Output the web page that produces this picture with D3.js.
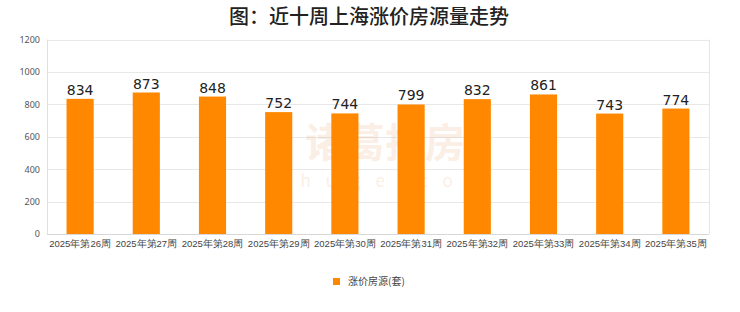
<!DOCTYPE html>
<html>
<head>
<meta charset="utf-8">
<script src="https://cdn.jsdelivr.net/npm/d3@7"></script>
<style>
  body { margin: 0; background: #fff; }
  svg { display: block; font-family: "Noto Sans CJK SC", "Noto Sans", sans-serif; }
</style>
</head>
<body>
<svg class="chart" width="740" height="312"></svg>
<script>
var weeks = ["2025年第26周", "2025年第27周", "2025年第28周", "2025年第29周", "2025年第30周",
             "2025年第31周", "2025年第32周", "2025年第33周", "2025年第34周", "2025年第35周"];
var rises = [834, 873, 848, 752, 744, 799, 832, 861, 743, 774];
var yTicks = [0, 200, 400, 600, 800, 1000, 1200];
var seriesName = "涨价房源(套)";
var chartTitle = "图：近十周上海涨价房源量走势";

var svg = d3.select("svg.chart");
var margin = {left: 47, right: 31, top: 39.5, bottom: 78};
var W = 740, H = 312;

var x = d3.scaleBand().domain(weeks)
  .range([margin.left, W - margin.right])
  .paddingInner(0.59).paddingOuter(0.295);
var y = d3.scaleLinear().domain([0, 1200]).range([H - margin.bottom, margin.top]);

// title
svg.append("text")
  .attr("x", 369).attr("y", 24)
  .attr("text-anchor", "middle")
  .attr("font-size", 20)
  .attr("font-weight", 500)
  .attr("fill", "#222")
  .text(chartTitle);

// grid
svg.append("g").selectAll("line")
  .data(yTicks)
  .enter().append("line")
  .attr("x1", margin.left).attr("x2", W - margin.right)
  .attr("y1", function(d) { return Math.round(y(d)) + 0.5; })
  .attr("y2", function(d) { return Math.round(y(d)) + 0.5; })
  .attr("stroke", function(d) { return d === 0 ? "#d8d8d8" : "#e8e8e8"; });

// frame sides
svg.append("line")
  .attr("x1", margin.left + 0.5).attr("x2", margin.left + 0.5)
  .attr("y1", y(1200)).attr("y2", y(0))
  .attr("stroke", "#e0e0e0");
svg.append("line")
  .attr("x1", W - margin.right + 0.5).attr("x2", W - margin.right + 0.5)
  .attr("y1", y(1200)).attr("y2", y(0))
  .attr("stroke", "#e6e6e6");

// y axis labels
var yAxis = svg.append("g")
  .attr("transform", "translate(" + (margin.left - 7) + ",0)")
  .call(d3.axisLeft(y).tickValues(yTicks).tickFormat(d3.format("d")).tickSize(0).tickPadding(0));
yAxis.select(".domain").remove();
yAxis.selectAll("text").attr("font-size", 9).attr("fill", "#555").attr("font-family", "Noto Sans, sans-serif");

// watermark
var wm = svg.append("g").attr("opacity", 0.12).attr("fill", "#e07a30");
wm.append("text").attr("x", 385).attr("y", 157)
  .attr("text-anchor", "middle").attr("font-size", 40).attr("font-weight", "bold")
  .text("诸葛找房");
wm.append("text").attr("x", 388).attr("y", 187)
  .attr("text-anchor", "middle").attr("font-size", 17).attr("letter-spacing", 15)
  .text("zhuge.com");

// bars
svg.append("g").selectAll("rect")
  .data(rises)
  .enter().append("rect")
  .attr("x", function(d, i) { return x(weeks[i]); })
  .attr("y", function(d) { return y(d); })
  .attr("width", x.bandwidth())
  .attr("height", function(d) { return y(0) - y(d); })
  .attr("fill", "#ff8800");

// value labels
svg.append("g").selectAll("text")
  .data(rises)
  .enter().append("text")
  .attr("x", function(d, i) { return x(weeks[i]) + x.bandwidth() / 2; })
  .attr("y", function(d) { return y(d) - 4; })
  .attr("text-anchor", "middle")
  .attr("font-size", 14)
  .attr("fill", "#222")
  .attr("font-family", "DejaVu Sans, sans-serif")
  .text(function(d) { return d; });

// x axis labels
var xAxis = svg.append("g")
  .attr("transform", "translate(0," + (y(0) + 4) + ")")
  .call(d3.axisBottom(x).tickSize(0).tickPadding(0));
xAxis.select(".domain").remove();
xAxis.selectAll("text").attr("font-size", 9.5).attr("fill", "#444").attr("dy", "0.9em");

// legend
var lg = svg.append("g").attr("transform", "translate(333,276)");
lg.append("rect").attr("x", 0).attr("y", 2).attr("width", 7).attr("height", 7).attr("fill", "#ff8800");
lg.append("text").attr("x", 15).attr("y", 9).attr("font-size", 10).attr("fill", "#444").text(seriesName);
</script>
</body>
</html>
